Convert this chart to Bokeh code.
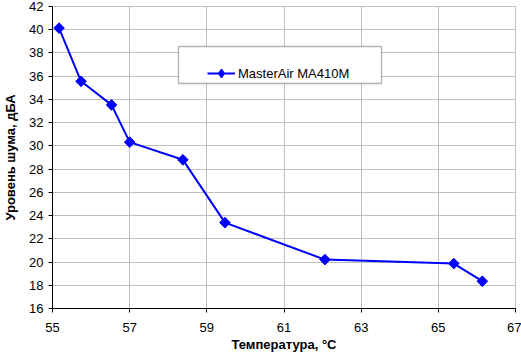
import numpy as np
from bokeh.plotting import figure
from bokeh.models import Range1d, Legend, LegendItem, BoxAnnotation, FixedTicker
from bokeh.embed import file_html
from bokeh.resources import INLINE

# Data
temperature = [55.17, 55.74, 56.53, 57.0, 58.38, 59.47, 62.06, 65.40, 66.14]
noise_dba = [40.14, 35.56, 33.53, 30.32, 28.8, 23.39, 20.21, 19.87, 18.35]
series_name = "MasterAir MA410M"
x_ticks = [55, 57, 59, 61, 63, 65, 67]
y_ticks = list(range(16, 43, 2))
x_title = "Температура, °C"
y_title = "Уровень шума, дБА"

FONT = "Liberation Sans"

p = figure(width=521, height=354, output_backend="svg", toolbar_location=None,
           x_range=Range1d(55, 67), y_range=Range1d(16, 42),
           min_border_left=47, min_border_right=6, min_border_top=6, min_border_bottom=46)
p.background_fill_color = "white"
p.border_fill_color = "white"
p.outline_line_color = "#c0c0c0"
p.outline_line_width = 1

for ax, ticks in ((p.xaxis, x_ticks), (p.yaxis, y_ticks)):
    ax.ticker = FixedTicker(ticks=ticks)
    ax.axis_line_color = "black"
    ax.axis_line_width = 1
    ax.major_tick_line_color = "black"
    ax.major_tick_out = 4
    ax.major_tick_in = 0
    ax.minor_tick_line_color = None
    ax.major_label_text_font = FONT
    ax.major_label_text_font_size = "13px"
    ax.major_label_text_color = "black"
    ax.axis_label_text_font = FONT
    ax.axis_label_text_font_size = "13px"
    ax.axis_label_text_font_style = "bold"
    ax.axis_label_text_color = "black"

p.xaxis.axis_label = x_title
p.yaxis.axis_label = y_title
p.xaxis.major_label_standoff = 10
p.xaxis.axis_label_standoff = 2
p.yaxis.major_label_standoff = 5
p.yaxis.axis_label_standoff = 8

p.xgrid.ticker = FixedTicker(ticks=x_ticks)
p.ygrid.ticker = FixedTicker(ticks=y_ticks)
p.xgrid.grid_line_color = "#c0c0c0"
p.ygrid.grid_line_color = "#c0c0c0"

ln = p.line(temperature, noise_dba, line_color="#0000ff", line_width=2)
# diamond used for the legend swatch; sits beneath the rotated squares
proxy = p.scatter(temperature, noise_dba, marker="diamond", size=9, line_width=1.5,
                  fill_color="#0000ff", line_color="#0000ff")
sc = p.scatter(temperature, noise_dba, marker="square", angle=np.pi / 4, size=7.5,
               fill_color="#0000ff", line_color="#0000ff")

box = BoxAnnotation(left=178, right=381, top=46, bottom=83,
                    left_units="canvas", right_units="canvas",
                    top_units="canvas", bottom_units="canvas",
                    fill_color="white", fill_alpha=1.0,
                    line_color="black", line_width=1.3)
p.add_layout(box)

legend = Legend(items=[LegendItem(label=series_name, renderers=[ln, proxy])],
                location=(155, 225), padding=8, spacing=0, margin=0,
                glyph_width=28, glyph_height=20, label_height=20, label_standoff=3,
                label_text_font=FONT, label_text_font_size="13px",
                label_text_color="black",
                border_line_color=None, background_fill_alpha=0.0)
p.add_layout(legend)

open("out.html", "w").write(file_html(p, INLINE))
